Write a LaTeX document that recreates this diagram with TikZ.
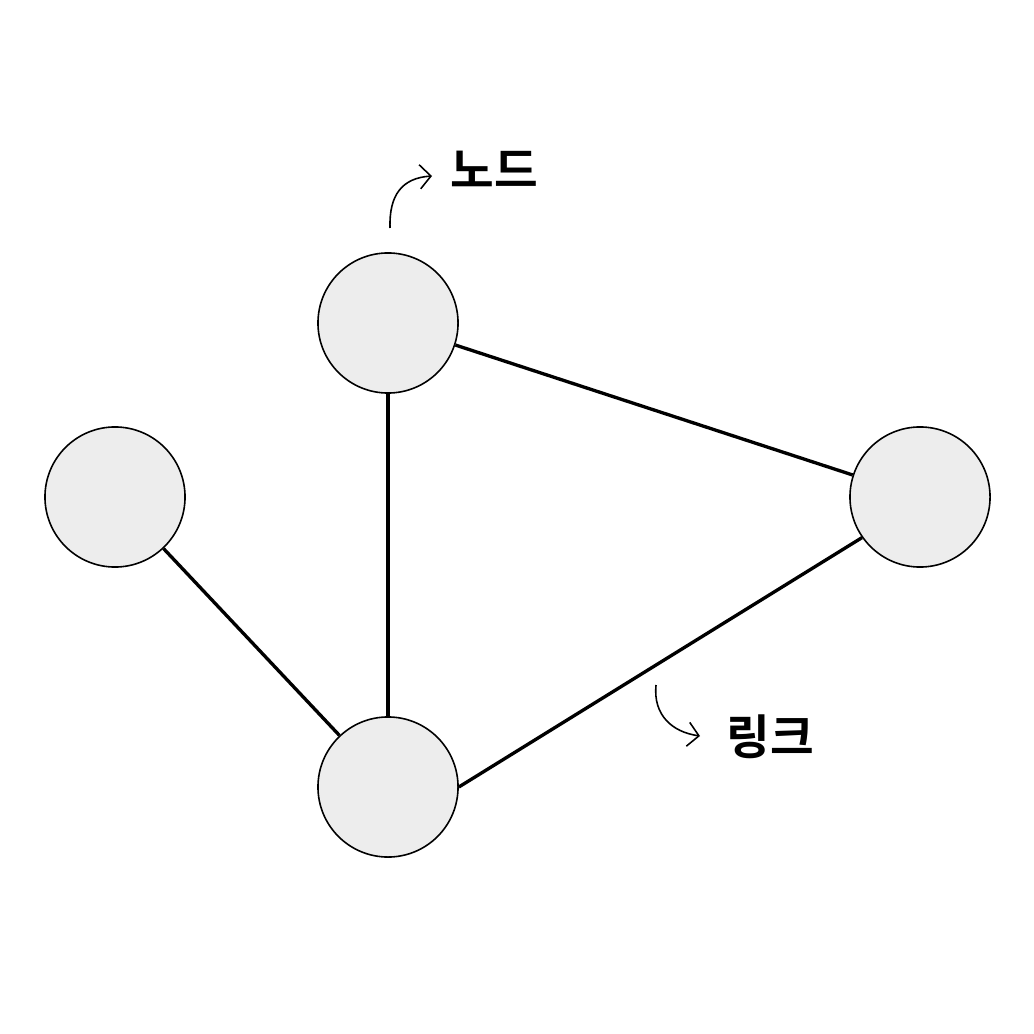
\documentclass[tikz,border=0pt]{standalone}
\usepackage{fontspec}
\newfontfamily\kofont{Noto Sans CJK KR}[BoldFont={* Bold}]
\usetikzlibrary{positioning, arrows.meta}

\tikzset{
  graphnode/.style={circle, draw=black, line width=0.45pt, fill=black!7, minimum size=1.4cm, inner sep=0pt},
  graphlink/.style={line width=0.95pt},
  callout/.style={font=\kofont\bfseries\fontsize{13.5pt}{15pt}\selectfont, inner sep=0pt}
}

\begin{document}
\begin{tikzpicture}[>={Straight Barb[length=1.1mm, width=2.4mm]}, x=0.01cm, y=-0.01cm]
  \useasboundingbox (0,0) rectangle (1034,1034);

  % Knoten
  \node[graphnode] (top)    at (388,323) {};
  \node[graphnode] (left)   at (115,497) {};
  \node[graphnode] (right)  at (920,497) {};
  \node[graphnode] (bottom) at (388,787) {};

  % Kanten
  \draw[graphlink] (top) -- (right);
  \draw[graphlink] (top) -- (bottom);
  \draw[graphlink] (left) -- (bottom);
  \draw[graphlink] (bottom.east) -- (right.215);

  % Beschriftungen
  \node[callout] (nodelabel) at (494,169) {노드};
  \node[callout] (linklabel) at (770,737) {링크};

  % Pfeile zu den Beschriftungen
  \coordinate (nodestart) at (390,228);
  \coordinate (nodetip)   at (432,176);
  \coordinate (linkstart) at (656,685);
  \coordinate (linktip)   at (700,736);
  \draw[->, line width=0.45pt] (nodestart) .. controls (389,195) and (402,178) .. (nodetip);
  \draw[->, line width=0.45pt] (linkstart) .. controls (653,715) and (672,732) .. (linktip);
\end{tikzpicture}
\end{document}
